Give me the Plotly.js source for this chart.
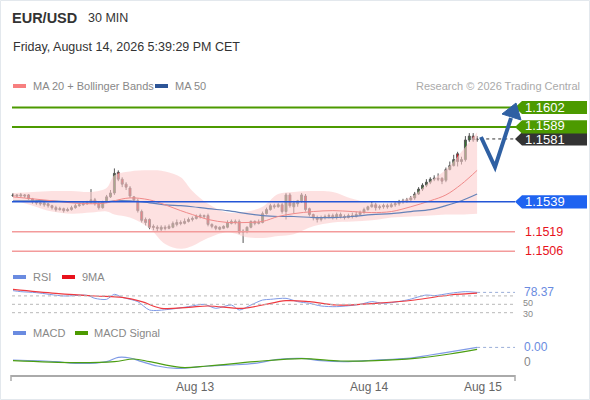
<!DOCTYPE html>
<html>
<head>
<meta charset="utf-8">
<script src="https://cdn.plot.ly/plotly-3.0.1.min.js"></script>
<style>
html,body{margin:0;padding:0;background:#fff;}
#chart{width:590px;height:400px;}
</style>
</head>
<body>
<div id="chart"></div>
<script>
// ---------- DATA ----------
const candleOpen = [1.15429,1.15436,1.15429,1.15436,1.15436,1.15410,1.15390,1.15383,1.15370,1.15377,
1.15364,1.15351,1.15338,1.15344,1.15331,1.15338,1.15351,1.15364,1.15370,1.15377,
1.15383,1.15403,1.15377,1.15351,1.15390,1.15423,1.15449,1.15587,1.15541,1.15508,
1.15482,1.15423,1.15397,1.15325,1.15272,1.15272,1.15226,1.15220,1.15207,1.15220,
1.15213,1.15220,1.15239,1.15252,1.15246,1.15259,1.15272,1.15279,1.15292,1.15298,
1.15298,1.15239,1.15226,1.15207,1.15213,1.15220,1.15246,1.15259,1.15259,1.15187,
1.15194,1.15220,1.15259,1.15246,1.15252,1.15311,1.15338,1.15364,1.15357,1.15370,
1.15325,1.15436,1.15357,1.15377,1.15397,1.15429,1.15344,1.15305,1.15285,1.15272,
1.15285,1.15292,1.15298,1.15285,1.15305,1.15292,1.15285,1.15298,1.15292,1.15305,
1.15318,1.15338,1.15357,1.15370,1.15351,1.15357,1.15364,1.15357,1.15370,1.15377,
1.15390,1.15397,1.15403,1.15416,1.15442,1.15475,1.15501,1.15521,1.15541,1.15547,
1.15547,1.15534,1.15606,1.15632,1.15711,1.15659,1.15672,1.15803,1.15829,1.15803];
const candleHigh = [1.15449,1.15442,1.15449,1.15442,1.15442,1.15416,1.15403,1.15397,1.15397,1.15383,
1.15370,1.15364,1.15357,1.15351,1.15351,1.15364,1.15377,1.15383,1.15390,1.15397,
1.15475,1.15416,1.15390,1.15397,1.15436,1.15469,1.15613,1.15600,1.15554,1.15521,
1.15495,1.15429,1.15410,1.15338,1.15285,1.15279,1.15239,1.15233,1.15233,1.15233,
1.15239,1.15259,1.15272,1.15266,1.15279,1.15285,1.15292,1.15305,1.15311,1.15305,
1.15311,1.15246,1.15233,1.15226,1.15233,1.15266,1.15272,1.15272,1.15272,1.15207,
1.15226,1.15266,1.15266,1.15272,1.15325,1.15351,1.15377,1.15377,1.15383,1.15383,
1.15449,1.15449,1.15397,1.15403,1.15449,1.15442,1.15351,1.15311,1.15298,1.15298,
1.15305,1.15311,1.15311,1.15318,1.15318,1.15305,1.15311,1.15318,1.15325,1.15331,
1.15351,1.15364,1.15390,1.15383,1.15370,1.15377,1.15377,1.15383,1.15390,1.15403,
1.15410,1.15416,1.15429,1.15456,1.15488,1.15514,1.15541,1.15554,1.15567,1.15580,
1.15554,1.15619,1.15659,1.15704,1.15724,1.15691,1.15829,1.15849,1.15849,1.15829];
const candleLow = [1.15423,1.15423,1.15423,1.15416,1.15403,1.15377,1.15370,1.15364,1.15357,1.15351,
1.15338,1.15325,1.15331,1.15318,1.15325,1.15331,1.15344,1.15357,1.15364,1.15370,
1.15377,1.15364,1.15338,1.15344,1.15383,1.15416,1.15436,1.15528,1.15488,1.15469,
1.15416,1.15390,1.15318,1.15252,1.15233,1.15207,1.15200,1.15194,1.15194,1.15200,
1.15207,1.15213,1.15226,1.15233,1.15239,1.15252,1.15259,1.15272,1.15279,1.15279,
1.15226,1.15213,1.15200,1.15200,1.15207,1.15213,1.15239,1.15239,1.15174,1.15115,
1.15180,1.15213,1.15233,1.15239,1.15246,1.15305,1.15331,1.15344,1.15351,1.15311,
1.15272,1.15351,1.15311,1.15357,1.15383,1.15325,1.15292,1.15266,1.15252,1.15259,
1.15272,1.15279,1.15272,1.15272,1.15279,1.15272,1.15279,1.15279,1.15285,1.15298,
1.15311,1.15331,1.15351,1.15331,1.15338,1.15344,1.15344,1.15351,1.15357,1.15364,
1.15377,1.15383,1.15397,1.15403,1.15436,1.15462,1.15488,1.15508,1.15528,1.15528,
1.15508,1.15521,1.15600,1.15626,1.15626,1.15639,1.15659,1.15790,1.15790,1.15790];
const candleClose = [1.15436,1.15429,1.15436,1.15429,1.15410,1.15390,1.15383,1.15377,1.15383,1.15364,
1.15351,1.15338,1.15344,1.15331,1.15338,1.15351,1.15364,1.15370,1.15377,1.15383,
1.15403,1.15377,1.15351,1.15390,1.15423,1.15449,1.15580,1.15541,1.15508,1.15488,
1.15429,1.15403,1.15331,1.15266,1.15252,1.15220,1.15220,1.15213,1.15220,1.15213,
1.15226,1.15246,1.15252,1.15246,1.15259,1.15272,1.15279,1.15292,1.15298,1.15292,
1.15239,1.15226,1.15213,1.15220,1.15226,1.15252,1.15259,1.15252,1.15187,1.15194,
1.15220,1.15259,1.15246,1.15252,1.15311,1.15338,1.15364,1.15357,1.15370,1.15325,
1.15436,1.15364,1.15383,1.15397,1.15436,1.15338,1.15305,1.15285,1.15272,1.15285,
1.15292,1.15298,1.15285,1.15305,1.15292,1.15285,1.15298,1.15292,1.15305,1.15318,
1.15338,1.15357,1.15370,1.15351,1.15357,1.15364,1.15357,1.15370,1.15377,1.15390,
1.15397,1.15403,1.15416,1.15442,1.15475,1.15501,1.15521,1.15541,1.15547,1.15541,
1.15528,1.15606,1.15632,1.15672,1.15659,1.15672,1.15803,1.15829,1.15803,1.1581];

const bandIdx   = [0,5,10,15,20,24,26,30,35,39,43,46,50,55,60,64,68,72,77,82,87,92,97,102,107,111,115,119];
const bandUpper = [1.15449,1.15456,1.15462,1.15462,1.15456,1.15482,1.15567,1.15593,1.15600,1.15593,1.15554,1.15462,1.15377,1.15318,1.15325,1.15357,1.15442,1.15456,1.15462,1.15456,1.15410,1.15383,1.15383,1.15423,1.15528,1.15606,1.15724,1.15855];
const bandLower = [1.15403,1.15364,1.15325,1.15311,1.15318,1.15325,1.15305,1.15285,1.15213,1.15108,1.15076,1.15095,1.15148,1.15187,1.15154,1.15148,1.15161,1.15174,1.15226,1.15252,1.15259,1.15266,1.15285,1.15292,1.15298,1.15305,1.15305,1.15311];
const ma20      = [1.15423,1.15410,1.15397,1.15383,1.15377,1.15383,1.15397,1.15416,1.15403,1.15370,1.15331,1.15305,1.15272,1.15252,1.15252,1.15259,1.15292,1.15311,1.15325,1.15331,1.15325,1.15318,1.15325,1.15357,1.15397,1.15436,1.15508,1.15600];
const ma50      = [1.15397,1.15397,1.15397,1.15390,1.15390,1.15390,1.15397,1.15397,1.15383,1.15370,1.15364,1.15357,1.15344,1.15331,1.15311,1.15298,1.15292,1.15292,1.15285,1.15285,1.15292,1.15305,1.15311,1.15325,1.15338,1.15364,1.15397,1.15442];

const rsiIdx = [0,2,6,13,19,21,24,26,28,32,35,40,45,49,52,56,58,61,64,66,70,73,76,79,83,89,92,95,101,106,108,112,116,119];
const rsiVal = [82.5,80.1,77.7,69.8,71.4,64.2,61.8,73.7,66.6,56.3,36.4,38.0,44.4,49.9,40.4,48.3,36.4,48.3,60.2,61.8,64.2,56.3,52.3,46.0,44.4,49.9,56.3,52.3,60.2,72.1,70.6,76.1,80.1,78.37];
const rsiMaIdx = [0,11,21,28,33,38,45,50,59,64,70,76,83,93,103,112,119];
const rsiMaVal = [85.6,76.1,69.8,66.6,56.3,40.4,42.8,46.0,40.4,48.3,58.6,56.3,48.3,52.3,60.2,72.1,76.5];
const rsiGrid = [70,50,30];
const rsiGridLabels = ['50','30'];

const macdIdx = [0,11,16,24,27,30,33,37,42,50,56,62,68,74,79,85,93,101,107,114,119];
const macdVal = [0.0001,0.00002,-0.00007,0.00002,0.00023,0.0002,0.00002,-0.0002,-0.00032,-0.0002,-0.00015,-0.00007,0.00013,0.00018,0.00007,0.00002,0.0001,0.00018,0.00035,0.00057,0.00073];
const sigIdx = [0,16,26,31,35,43,50,62,74,84,93,103,112,119];
const sigVal = [0.00007,-0.00003,0.00002,0.00015,0.00002,-0.00027,-0.0002,0.00002,0.00017,0.00005,0.00007,0.00018,0.0004,0.00063];

const resistLevels = [1.1602, 1.1589];
const lastPrice = 1.1581;
const pivotLevel = 1.1539;
const supportLevels = [1.1519, 1.1506];

const tickPos = [46.7, 91.3, 120.5];
const tickLabels = ['Aug 13','Aug 14','Aug 15'];

// ---------- LAYOUT HELPERS ----------
const W=590, H=400, ML=11, MR=75, MT=0, MB=25;
const PW=W-ML-MR, PH=H-MT-MB;
const px = x => (x-ML)/PW;
const py = y => (H-MB-y)/PH;
const FONT = 'Liberation Sans, Arial, sans-serif';
const idx = candleClose.map((_,i)=>i);
const lastI = idx[idx.length-1];

const traces = [];
traces.push({x:bandIdx, y:bandUpper, type:'scatter', mode:'lines', line:{width:0, shape:'spline'}, xaxis:'x', yaxis:'y', hoverinfo:'skip'});
traces.push({x:bandIdx, y:bandLower, type:'scatter', mode:'lines', line:{width:0, shape:'spline'}, fill:'tonexty', fillcolor:'rgba(251,205,205,0.6)', xaxis:'x', yaxis:'y', hoverinfo:'skip'});
traces.push({x:bandIdx, y:ma50, type:'scatter', mode:'lines', line:{width:1.2, color:'#6482b8', shape:'spline'}, xaxis:'x', yaxis:'y'});
traces.push({x:bandIdx, y:ma20, type:'scatter', mode:'lines', line:{width:1, color:'#f08a8a', shape:'spline'}, xaxis:'x', yaxis:'y'});
traces.push({x:idx, open:candleOpen, high:candleHigh, low:candleLow, close:candleClose, type:'candlestick',
  increasing:{line:{color:'#555', width:1}, fillcolor:'#2f7a2a'},
  decreasing:{line:{color:'#555', width:1}, fillcolor:'#e3101c'},
  whiskerwidth:0, xaxis:'x', yaxis:'y'});
traces.push({x:rsiIdx, y:rsiVal, type:'scatter', mode:'lines', line:{width:1, color:'#7f9ae6', shape:'spline', smoothing:0.8}, xaxis:'x', yaxis:'y2'});
traces.push({x:rsiMaIdx, y:rsiMaVal, type:'scatter', mode:'lines', line:{width:1.2, color:'#ef3a40', shape:'spline'}, xaxis:'x', yaxis:'y2'});
traces.push({x:macdIdx, y:macdVal, type:'scatter', mode:'lines', line:{width:1.2, color:'#7f9ae6', shape:'spline'}, xaxis:'x', yaxis:'y3'});
traces.push({x:sigIdx, y:sigVal, type:'scatter', mode:'lines', line:{width:1.2, color:'#4c9e12', shape:'spline'}, xaxis:'x', yaxis:'y3'});

const shapes = [];
const annotations = [];
shapes.push({type:'rect', xref:'paper', yref:'paper', x0:px(0.5), x1:px(589.5), y0:py(399.5), y1:py(0.5), line:{color:'#e3e8ed', width:1}, fillcolor:'rgba(0,0,0,0)'});

resistLevels.forEach(v=>{
  shapes.push({type:'line', xref:'paper', yref:'y', x0:px(12), x1:px(518), y0:v, y1:v, line:{color:'#4c9a00', width:2}});
});
shapes.push({type:'line', xref:'paper', yref:'y', x0:px(12), x1:px(515), y0:pivotLevel, y1:pivotLevel, line:{color:'#2456d6', width:1.5}});
supportLevels.forEach(v=>{
  shapes.push({type:'line', xref:'paper', yref:'y', x0:px(12), x1:px(515), y0:v, y1:v, line:{color:'#f39b9b', width:1.5}});
});
shapes.push({type:'line', xref:'x', yref:'y', x0:lastI+0.8, x1:(515-13)/3.9, y0:lastPrice, y1:lastPrice, line:{color:'#333', width:1, dash:'dot'}});

const PPX = 0.0000668;
function tag(v, color, shift){
  const h = 6.6*PPX;
  const tip=px(515), l=px(522), r=px(587);
  shapes.push({type:'path', xref:'paper', yref:'y', path:`M ${tip} ${v} L ${l} ${v+h} L ${r} ${v+h} L ${r} ${v-h} L ${l} ${v-h} Z`, fillcolor:color, line:{width:0}});
  annotations.push({xref:'paper', yref:'y', x:px(523), y:v, yshift:shift||0, xanchor:'left', yanchor:'middle', text:v.toFixed(4), showarrow:false, font:{family:FONT, size:13, color:'#fff'}});
}
tag(lastPrice, '#333333', -1);
tag(resistLevels[1], '#4c9a00', 1);
tag(resistLevels[0], '#4c9a00', 0);
tag(pivotLevel, '#1f63f0', 0);
supportLevels.forEach(v=>{
  annotations.push({xref:'paper', yref:'y', x:px(523), y:v, xanchor:'left', yanchor:'middle', text:v.toFixed(4), showarrow:false, font:{family:FONT, size:12.5, color:'#e8121c'}});
});

function P(x,y){return px(x)+' '+py(y);}
shapes.push({type:'path', xref:'paper', yref:'paper', path:`M ${P(481,137)} L ${P(495,167)} L ${P(511,118)}`, line:{color:'#2f60a3', width:4}, fillcolor:'rgba(0,0,0,0)'});
shapes.push({type:'path', xref:'paper', yref:'paper', path:`M ${P(516,103)} L ${P(521,120)} L ${P(502,114)} Z`, line:{color:'#2f60a3', width:1}, fillcolor:'#2f60a3'});

rsiGrid.forEach(v=>{
  shapes.push({type:'line', xref:'paper', yref:'y2', x0:0.002, x1:1, y0:v, y1:v, line:{color:'#b8b8b8', width:1, dash:'dot'}});
});
const lastRsi = rsiVal[rsiVal.length-1];
shapes.push({type:'line', xref:'x', yref:'y2', x0:lastI, x1:(515-13)/3.9, y0:lastRsi, y1:lastRsi, line:{color:'#9aaed8', width:1, dash:'dot'}});
annotations.push({xref:'paper', yref:'y2', x:px(522), y:lastRsi, xanchor:'left', yanchor:'middle', text:lastRsi.toFixed(2), showarrow:false, font:{family:FONT, size:12, color:'#6a8be0'}});
annotations.push({xref:'paper', yref:'y2', x:px(522), y:rsiGrid[1], yshift:1, xanchor:'left', yanchor:'middle', text:rsiGridLabels[0], showarrow:false, font:{family:FONT, size:9, color:'#888'}, borderpad:0});
annotations.push({xref:'paper', yref:'y2', x:px(522), y:rsiGrid[2], yshift:-1, xanchor:'left', yanchor:'middle', text:rsiGridLabels[1], showarrow:false, font:{family:FONT, size:9, color:'#888'}, borderpad:0});

const lastMacd = macdVal[macdVal.length-1];
shapes.push({type:'line', xref:'x', yref:'y3', x0:lastI, x1:(515-13)/3.9, y0:lastMacd, y1:lastMacd, line:{color:'#9aaed8', width:1, dash:'dot'}});
annotations.push({xref:'paper', yref:'y3', x:px(522), y:lastMacd, xanchor:'left', yanchor:'middle', text:lastMacd.toFixed(2), showarrow:false, font:{family:FONT, size:12, color:'#6a8be0'}});
annotations.push({xref:'paper', yref:'y3', x:px(522), y:0, xanchor:'left', yanchor:'middle', text:'0', showarrow:false, font:{family:FONT, size:12, color:'#888'}});

shapes.push({type:'line', xref:'paper', yref:'paper', x0:0, x1:0, y0:0, y1:py(381), line:{color:'#aaa', width:1.5}});
shapes.push({type:'line', xref:'paper', yref:'paper', x0:1, x1:1, y0:0, y1:py(381), line:{color:'#aaa', width:1.5}});

function txt(x,y,t,size,color,extra){
  annotations.push(Object.assign({xref:'paper', yref:'paper', x:px(x), y:py(y), xanchor:'left', yanchor:'middle', text:t, showarrow:false, font:{family:FONT, size:size, color:color}}, extra||{}));
}
txt(10,18,'<b>EUR/USD</b>',14.5,'#333');
txt(86,18,'30 MIN',12.5,'#333');
txt(11,47,'Friday, August 14, 2026 5:39:29 PM CET',12.5,'#333');
function swatch(x,y,color){
  shapes.push({type:'rect', xref:'paper', yref:'paper', x0:px(x), x1:px(x+13), y0:py(y+2), y1:py(y-2), fillcolor:color, line:{width:0}});
}
swatch(13,86,'#f77f7f'); txt(31,86,'MA 20 + Bollinger Bands',11,'#888');
swatch(155,86,'#2d5597'); txt(173,86,'MA 50',11,'#888');
annotations.push({xref:'paper', yref:'paper', x:px(582), y:py(86), xanchor:'right', yanchor:'middle', text:'Research © 2026 Trading Central', showarrow:false, font:{family:FONT, size:11, color:'#aaa'}});
swatch(13,277,'#6a8be0'); txt(31,277,'RSI',11,'#888');
swatch(62,277,'#e8121c'); txt(80,277,'9MA',11,'#888');
swatch(13,333,'#6a8be0'); txt(31,333,'MACD',11,'#888');
swatch(75,333,'#4c9a00'); txt(92,333,'MACD Signal',11,'#888');

const layout = {
  width:W, height:H,
  margin:{l:ML, r:MR, t:MT, b:MB, pad:0},
  paper_bgcolor:'#fff', plot_bgcolor:'rgba(0,0,0,0)',
  showlegend:false,
  font:{family:FONT},
  xaxis:{range:[(11-13)/3.9, (515-13)/3.9], tickvals:tickPos, ticktext:tickLabels, showgrid:false, zeroline:false,
    showline:true, linecolor:'#aaa', linewidth:1.5, ticks:'', tickfont:{family:FONT, size:12, color:'#666'},
    anchor:'y3', rangeslider:{visible:false}, fixedrange:true},
  yaxis:{domain:[py(258), py(95)], range:[1.1602-(258-107.5)*PPX, 1.1602+(107.5-95)*PPX], visible:false, fixedrange:true},
  yaxis2:{domain:[py(320), py(285)], range:[50-(320-304.3)/0.42, 50+(304.3-285)/0.42], visible:false, fixedrange:true},
  yaxis3:{domain:[py(375), py(335)], range:[(362-375)*0.00005, (362-335)*0.00005], visible:false, fixedrange:true},
  shapes:shapes,
  annotations:annotations
};
Plotly.newPlot('chart', traces, layout, {staticPlot:true, displayModeBar:false});
</script>
</body>
</html>
